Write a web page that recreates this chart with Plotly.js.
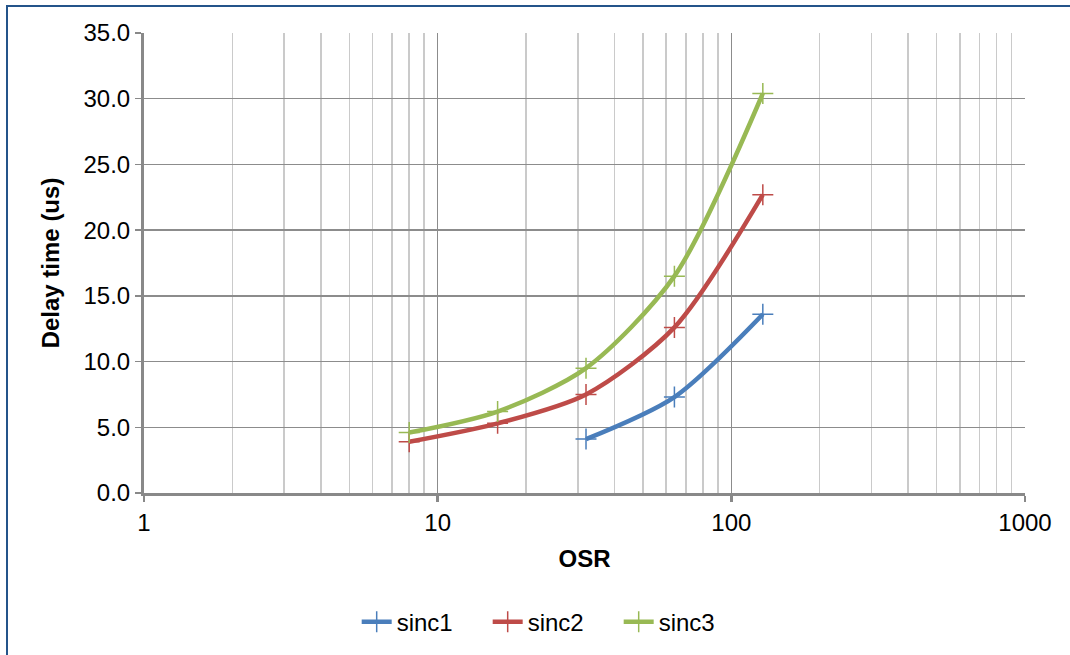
<!DOCTYPE html>
<html>
<head>
<meta charset="utf-8">
<script src="https://cdn.plot.ly/plotly-3.0.1.min.js"></script>
<style>
  html, body { margin: 0; padding: 0; background: #fff; overflow: hidden; }
  #plot { width: 1070px; height: 655px; }
  #frame { position: absolute; left: 6px; top: 5px; width: 1080px; height: 680px;
           border: 2.5px solid #24548A; box-sizing: border-box; pointer-events: none; }
</style>
</head>
<body>
<div id="plot"></div>
<div id="frame"></div>
<script>
const seriesNames = ["sinc1", "sinc2", "sinc3"];
const seriesColors = ["#4A7EBB", "#BE4B48", "#98B954"];
const osr1 = [32, 64, 128];
const delay1 = [4.1, 7.3, 13.6];
const osr2 = [8, 16, 32, 64, 128];
const delay2 = [3.9, 5.3, 7.5, 12.6, 22.7];
const osr3 = [8, 16, 32, 64, 128];
const delay3 = [4.6, 6.2, 9.5, 16.5, 30.4];
const xTickVals = [1, 10, 100, 1000];
const xTickText = ["1", "10", "100", "1000"];

const xs = [osr1, osr2, osr3];
const ys = [delay1, delay2, delay3];

const traces = seriesNames.map((n, i) => ({
  x: xs[i], y: ys[i], name: n, type: "scatter", mode: "lines+markers",
  line: { color: seriesColors[i], width: 4.5, shape: "spline", smoothing: 0.8 },
  marker: { symbol: "cross-thin-open", size: 15, color: seriesColors[i],
            line: { color: seriesColors[i], width: 1.5 } }
}));

const minorVals = [];
for (let d = 1; d < 1000; d *= 10) for (let k = 2; k <= 9; k++) minorVals.push(d * k);

const font = "Liberation Sans, Arial, sans-serif";
const fs = 24;
const layout = {
  width: 1070, height: 655,
  margin: { l: 144, r: 45, t: 33, b: 162 },
  paper_bgcolor: "#fff", plot_bgcolor: "#fff",
  font: { family: font, size: fs, color: "#000" },
  showlegend: true,
  legend: { orientation: "h", x: 0.517, xref: "container", xanchor: "center",
            y: 0.05, yref: "container", yanchor: "middle",
            font: { family: font, size: fs, color: "#000" }, traceorder: "normal",
            entrywidth: 86, entrywidthmode: "pixels" },
  xaxis: {
    type: "log", range: [0, 3],
    tickmode: "array", tickvals: xTickVals, ticktext: xTickText,
    ticks: "outside", ticklen: 6, tickwidth: 2.5, tickcolor: "#898989",
    showline: true, linecolor: "#898989", linewidth: 3,
    showgrid: true, gridcolor: "#8C8C8C", gridwidth: 1.5,
    minor: { tickmode: "array", tickvals: minorVals, showgrid: true, gridcolor: "#CACACA", gridwidth: 1.5, ticks: "" },
    zeroline: false, mirror: false,
    title: { text: "<b>OSR</b>", font: { family: font, size: fs }, standoff: 16 },
    tickfont: { family: font, size: fs }
  },
  yaxis: {
    range: [0, 35], dtick: 5, tick0: 0, tickformat: ".1f",
    ticks: "outside", ticklen: 6, tickwidth: 1.5, tickcolor: "#898989",
    showline: true, linecolor: "#898989", linewidth: 3,
    showgrid: true, gridcolor: "#8C8C8C", gridwidth: 1.5,
    zeroline: false,
    title: { text: "<b>Delay time (us)</b>", font: { family: font, size: fs }, standoff: 18 },
    tickfont: { family: font, size: fs }
  }
};

Plotly.newPlot("plot", traces, layout, { displayModeBar: false, staticPlot: true });
</script>
</body>
</html>
